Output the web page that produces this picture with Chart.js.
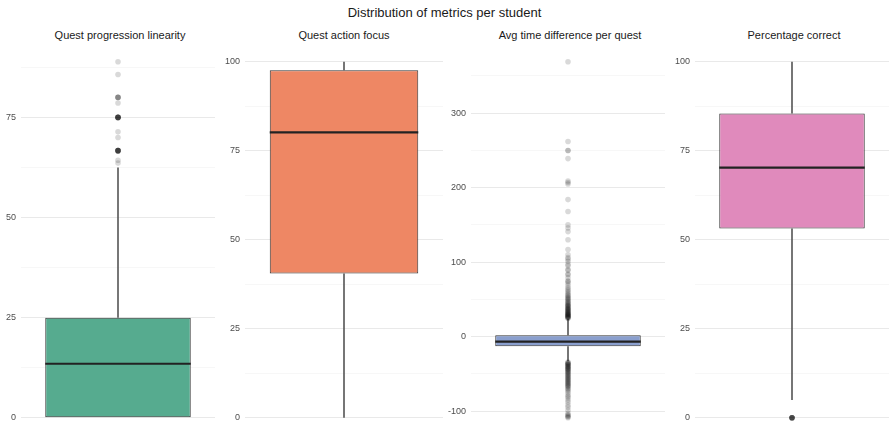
<!DOCTYPE html>
<html>
<head>
<meta charset="utf-8">
<script src="https://cdn.jsdelivr.net/npm/chart.js@4.4.1/dist/chart.umd.min.js"></script>
<style>
  body { margin: 0; width: 889px; height: 426px; overflow: hidden; background: #fff; position: relative;
         font-family: "Liberation Sans", Arial, sans-serif; }
  #title { position: absolute; top: 5px; left: 0; width: 889px; text-align: center; font-size: 13px; color: #1a1a1a; }
  .panel-title { position: absolute; top: 29px; width: 198px; text-align: center; font-size: 11px; color: #1a1a1a; }
  canvas { position: absolute; top: 0; }
</style>
</head>
<body>
<div id="title">Distribution of metrics per student</div>
<div id="panels"></div>
<script>
// one box per panel
const panelTitles = ['Quest progression linearity', 'Quest action focus', 'Avg time difference per quest', 'Percentage correct'];
const lowerWhisker = [0, 0, -33, 5];
const q1 = [0, 40.5, -13, 53.2];
const medians = [13.5, 80.2, -6.7, 70.3];
const q3 = [25, 97.6, 1.7, 85.5];
const upperWhisker = [62.5, 100, 24, 100];

const outliers1 = [88.9, 85.7, 80, 80, 80, 80, 78.6, 75, 75, 75, 75, 75, 75, 75, 75, 75, 71.4, 70,
  66.7, 66.7, 66.7, 66.7, 66.7, 66.7, 66.7, 66.7, 66.7, 64.3, 63.6];
const outliers2 = [];
const outliers3 = [369, 262, 250, 250, 239, 209, 207, 205, 184, 168, 150, 146, 141, 130, 117, 110, 106,
  104, 101, 97, 95, 90, 89, 84, 83, 79, 75, 74, 72, 69, 66, 64, 62, 60, 58, 56, 55, 53.5, 52, 51, 50,
  48.5, 47, 46, 45, 44, 43, 42, 41.5, 41, 40, 39, 38, 37.8, 37, 36, 35.6, 35, 34, 33.5, 33, 32, 31.8,
  31, 30.5, 30, 29.7, 29, 28.4, 28, 27.5, 27, 26.8, 26, 25.6, 25, 24.5,
  -34, -35, -35.5, -36, -37, -37.5, -38, -39, -40, -40.5, -41, -42, -43, -43.5, -44, -45, -46, -47,
  -48, -49, -50, -51, -52, -53, -54, -55, -56, -57, -58, -59, -60, -61, -62, -63, -64, -65, -66, -67,
  -68, -70, -71, -73, -75, -78, -80, -82, -85, -88, -92, -95, -99, -103, -105, -106, -107, -108, -109];
const outliers4 = [0, 0, 0, 0, 0, 0, 0, 0];
const outliers = [outliers1, outliers2, outliers3, outliers4];

const yMin = [-4.44, -5, -132.9, -5];
const yMax = [93.33, 105, 392.9, 105];
const majorTicks = [[0, 25, 50, 75], [0, 25, 50, 75, 100], [-100, 0, 100, 200, 300], [0, 25, 50, 75, 100]];
const minorTicks = [[12.5, 37.5, 62.5, 87.5], [12.5, 37.5, 62.5, 87.5], [-50, 50, 150, 250, 350], [12.5, 37.5, 62.5, 87.5]];

const boxColors = ['#56AB8F', '#EE8764', '#8A9FCE', '#E08ABC'];
const plotLefts = [21, 245, 471, 695];
const axisWidth = 30;
const plotWidth = 198;

const boxPlotLines = {
  id: 'boxPlotLines',
  beforeDatasetsDraw(chart, args, opts) {
    const i = opts.panel;
    const bar = chart.getDatasetMeta(1).data[0];
    const y = chart.scales.y;
    const ctx = chart.ctx;
    ctx.save();
    ctx.strokeStyle = '#4a4a4a';
    ctx.lineWidth = 1.5;
    ctx.beginPath();
    ctx.moveTo(bar.x, y.getPixelForValue(q3[i]));
    ctx.lineTo(bar.x, y.getPixelForValue(upperWhisker[i]));
    ctx.moveTo(bar.x, y.getPixelForValue(q1[i]));
    ctx.lineTo(bar.x, y.getPixelForValue(lowerWhisker[i]));
    ctx.stroke();
    ctx.restore();
  },
  afterDatasetsDraw(chart, args, opts) {
    const i = opts.panel;
    const bar = chart.getDatasetMeta(1).data[0];
    const ym = chart.scales.y.getPixelForValue(medians[i]);
    const ctx = chart.ctx;
    ctx.save();
    ctx.strokeStyle = '#222';
    ctx.lineWidth = 2.2;
    ctx.beginPath();
    ctx.moveTo(bar.x - bar.width / 2, ym);
    ctx.lineTo(bar.x + bar.width / 2, ym);
    ctx.stroke();
    ctx.restore();
  }
};

const holder = document.getElementById('panels');

panelTitles.forEach((name, i) => {
  const t = document.createElement('div');
  t.className = 'panel-title';
  t.style.left = plotLefts[i] + 'px';
  t.textContent = name;
  holder.appendChild(t);

  const canvas = document.createElement('canvas');
  canvas.width = axisWidth + plotWidth;
  canvas.height = 446;
  canvas.style.left = (plotLefts[i] - axisWidth) + 'px';
  holder.appendChild(canvas);

  const majors = majorTicks[i];
  const allTicks = majors.concat(minorTicks[i]).sort((a, b) => a - b);

  new Chart(canvas.getContext('2d'), {
    type: 'bar',
    data: {
      labels: [name],
      datasets: [
        {
          type: 'line',
          showLine: false,
          data: outliers[i].map(v => ({ x: name, y: v })),
          pointRadius: 2.8,
          pointBackgroundColor: 'rgba(0,0,0,0.15)',
          pointBorderWidth: 0
        },
        {
          type: 'bar',
          data: [[q1[i], q3[i]]],
          backgroundColor: boxColors[i],
          borderColor: '#333',
          borderWidth: 1,
          borderSkipped: false,
          barPercentage: 0.75,
          categoryPercentage: 1
        }
      ]
    },
    options: {
      responsive: false,
      animation: false,
      devicePixelRatio: 1,
      layout: { padding: { top: 44, bottom: 10, left: 0, right: 0 } },
      plugins: {
        legend: { display: false },
        tooltip: { enabled: false },
        boxPlotLines: { panel: i }
      },
      scales: {
        x: { display: false },
        y: {
          min: yMin[i],
          max: yMax[i],
          afterBuildTicks: axis => { axis.ticks = allTicks.map(v => ({ value: v })); },
          afterFit: axis => { axis.width = axisWidth; },
          border: { display: false },
          grid: {
            drawTicks: false,
            color: c => majors.includes(c.tick.value) ? '#e9e9e9' : '#f3f3f3',
            lineWidth: c => majors.includes(c.tick.value) ? 1 : 0.7
          },
          ticks: {
            padding: 5,
            color: '#4d4d4d',
            font: { size: 9, family: '"Liberation Sans", Arial, sans-serif' },
            callback: v => majors.includes(v) ? String(v) : ''
          }
        }
      }
    },
    plugins: [boxPlotLines]
  });
});
</script>
</body>
</html>
